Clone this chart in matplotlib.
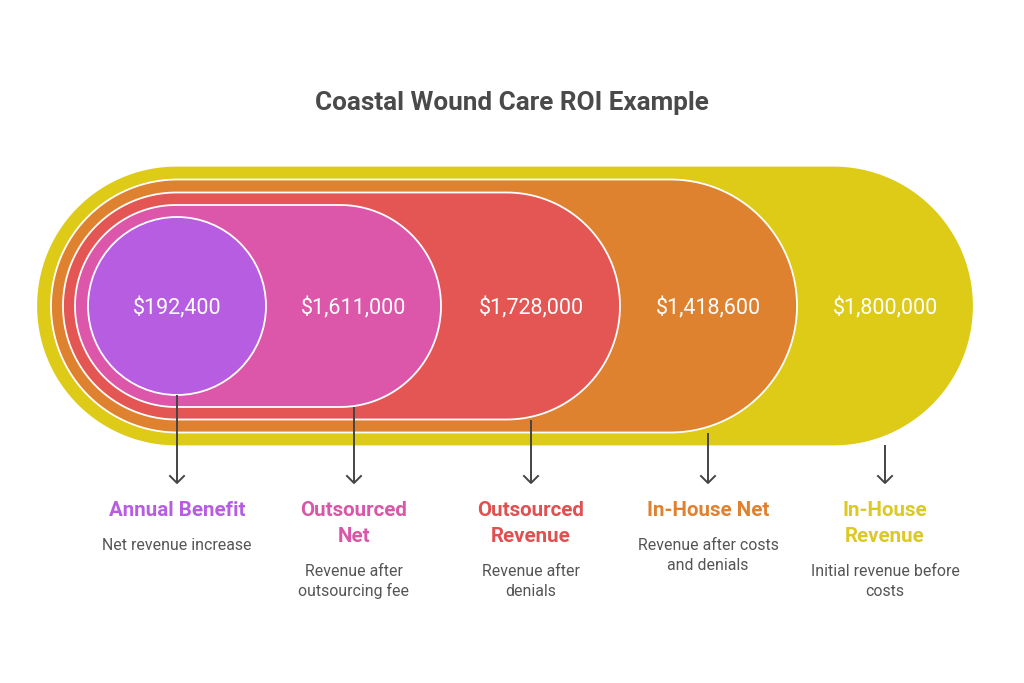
#!/usr/bin/env python3
"""Coastal Wound Care ROI example: nested stadium infographic."""

import matplotlib

matplotlib.use("Agg")
import matplotlib.pyplot as plt
import numpy as np
from matplotlib.patches import Circle, Polygon

plt.rcParams["font.family"] = ["Roboto", "DejaVu Sans"]

# data, innermost first
values = ["$192,400", "$1,611,000", "$1,728,000", "$1,418,600", "$1,800,000"]
titles = ["Annual Benefit", "Outsourced\nNet", "Outsourced\nRevenue", "In-House Net", "In-House\nRevenue"]
descriptions = [
    "Net revenue increase",
    "Revenue after\noutsourcing fee",
    "Revenue after\ndenials",
    "Revenue after costs\nand denials",
    "Initial revenue before\ncosts",
]
fill_colors = ["#B65DE2", "#DC57A9", "#E45654", "#DF822F", "#DDCB18"]
text_colors = ["#B65DE2", "#D957A8", "#E05050", "#E0812F", "#DCC925"]

# layout (pixel coords, y down)
CY = 306
LABEL_X = [177, 354, 531, 708, 885]
# (left, right, height) for stadium shapes, outermost first
STADIA = [(38, 972, 277), (51, 797, 253), (63, 620, 227), (75, 441, 202)]
CIRCLE_R = 89
ARROW_TIP = 483
TEXT_NUDGE = 2  # va="center" sits a touch high with Roboto


def stadium(left: float, right: float, h: float) -> np.ndarray:
    r = h / 2
    t = np.linspace(-np.pi / 2, np.pi / 2, 90)
    right_arc = np.column_stack([right - r + r * np.cos(t), CY + r * np.sin(t)])
    left_arc = np.column_stack([left + r - r * np.cos(t), CY - r * np.sin(t)])
    return np.vstack([right_arc, left_arc])


def main() -> None:
    fig = plt.figure(figsize=(10.24, 6.83), dpi=100)
    ax = fig.add_axes([0, 0, 1, 1])
    ax.set_xlim(0, 1024)
    ax.set_ylim(683, 0)
    ax.axis("off")

    outer_colors = fill_colors[1:][::-1]
    bottoms = []
    for i, ((left, right, h), color) in enumerate(zip(STADIA, outer_colors)):
        patch = Polygon(
            stadium(left, right, h),
            closed=True,
            facecolor=color,
            edgecolor="white" if i > 0 else color,
            lw=1.3,
            zorder=1 + i,
        )
        ax.add_patch(patch)
        bottoms.append(CY + h / 2)
    circ = Circle((LABEL_X[0], CY), CIRCLE_R, facecolor=fill_colors[0], edgecolor="white", lw=1.3, zorder=6)
    ax.add_patch(circ)
    bottoms.append(CY + CIRCLE_R)
    bottoms = bottoms[::-1]

    ax.text(512, 101 + TEXT_NUDGE, "Coastal Wound Care ROI Example", ha="center", va="center",
            fontsize=18.8, fontweight="bold", color="#4a4a4a")

    for x, val, title, desc, tcol, y0 in zip(LABEL_X, values, titles, descriptions, text_colors, bottoms):
        ax.text(x, CY + TEXT_NUDGE, val, ha="center", va="center", fontsize=15.5, color="white", zorder=10)

        ax.plot([x, x], [y0, ARROW_TIP], color="#444444", lw=1.4, zorder=10, solid_capstyle="butt")
        ax.plot([x - 7, x, x + 7], [ARROW_TIP - 7, ARROW_TIP, ARROW_TIP - 7], color="#444444",
                lw=1.4, zorder=10)

        tlines = title.split("\n")
        for j, line in enumerate(tlines):
            ax.text(x, 509 + TEXT_NUDGE + 26 * j, line, ha="center", va="center", fontsize=14.8,
                    fontweight="bold", color=tcol)
        dstart = 509 + TEXT_NUDGE + 26 * (len(tlines) - 1) + 35
        for j, line in enumerate(desc.split("\n")):
            ax.text(x, dstart + 19 * j, line, ha="center", va="center", fontsize=11.4, color="#555555")

    fig.savefig("out.png", dpi=100, facecolor="white")
    plt.close(fig)


if __name__ == "__main__":
    main()
